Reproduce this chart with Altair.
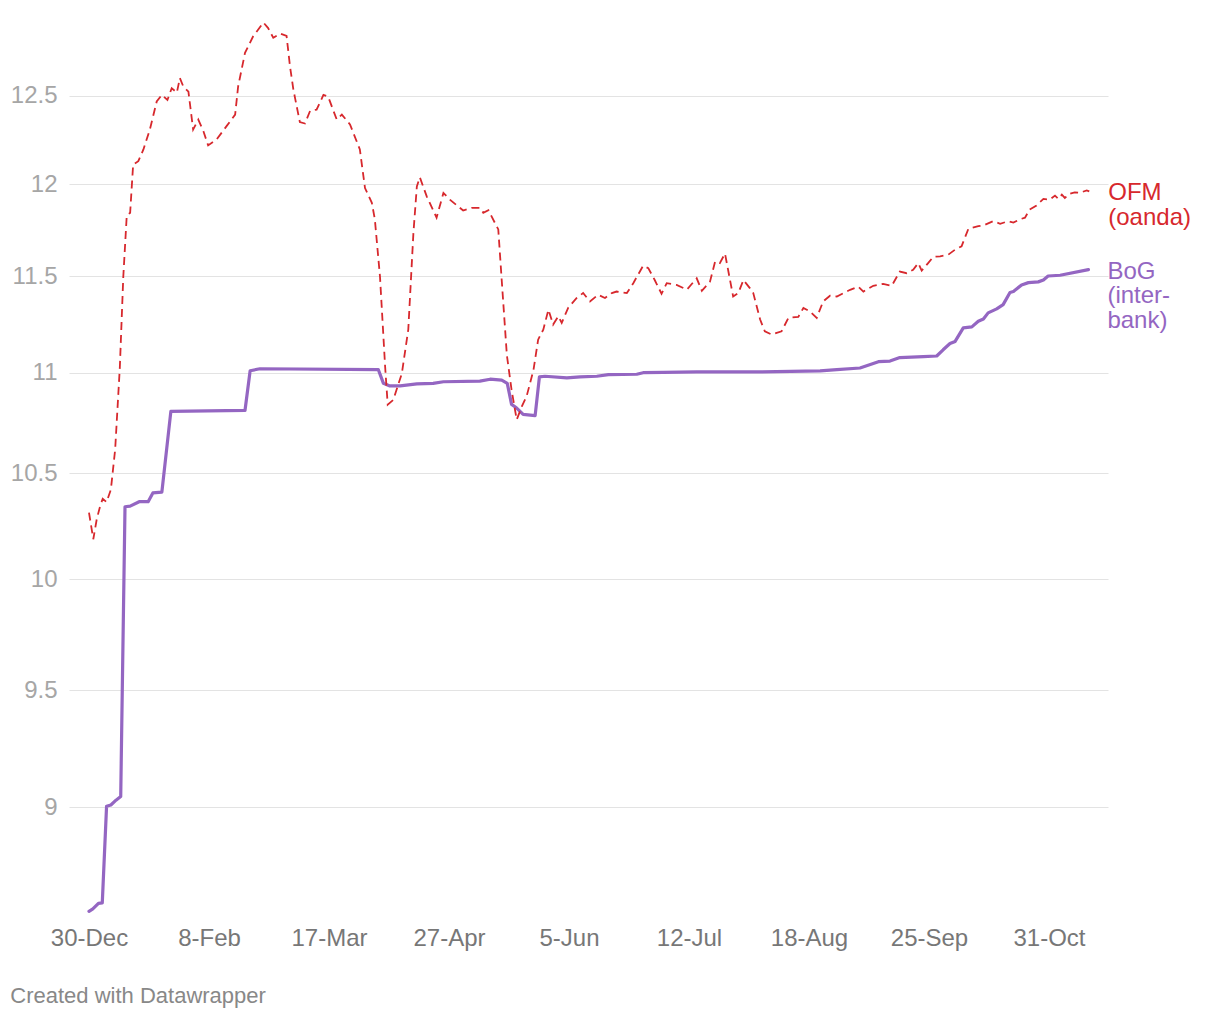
import altair as alt
import pandas as pd

# ---- tick labels (x axis is spaced by trading-day position, 28 per tick) ----
TICK_STEP = 28
tick_labels = ["30-Dec", "8-Feb", "17-Mar", "27-Apr", "5-Jun", "12-Jul", "18-Aug", "25-Sep", "31-Oct"]
tick_pos = [i * TICK_STEP for i in range(len(tick_labels))]
y_ticks = [9, 9.5, 10, 10.5, 11, 11.5, 12, 12.5]

# ---- BoG inter-bank rate ----
bog_t = [0, 0.9, 2.2, 3.1, 4.1, 5.1, 6.3, 7.4, 8.4, 9.6,
         11.7, 13.8, 14.9, 17.0, 19.1, 36.4, 37.6, 39.9, 67.5, 68.7,
         70.2, 72.6, 76.5, 80.3, 82.7, 91.2, 93.6, 96.3, 97.6, 98.6,
         99.8, 101.3, 104.1, 105.1, 106.4, 111.5, 114.6, 118.5, 121.2, 127.8,
         129.3, 134.0, 141.8, 156.6, 170.6, 174.5, 179.9, 183.0, 184.2, 186.9,
         189.2, 194.7, 197.8, 199.3, 200.9, 202.1, 204.0, 206.0, 207.5, 208.7,
         209.8, 211.8, 213.3, 214.9, 215.7, 217.6, 219.2, 221.5, 222.7, 223.8,
         226.6, 233.2]
bog_v = [8.578, 8.588, 8.61, 8.612, 9.005, 9.01, 9.03, 9.045, 10.34, 10.343,
         10.364, 10.364, 10.406, 10.41, 10.805, 10.81, 11.01, 11.02, 11.016, 10.946,
         10.933, 10.933, 10.943, 10.946, 10.954, 10.957, 10.967, 10.962, 10.946, 10.84,
         10.822, 10.79, 10.784, 10.979, 10.982, 10.974, 10.979, 10.982, 10.99, 10.992,
         11.0, 11.002, 11.004, 11.004, 11.009, 11.016, 11.024, 11.047, 11.056, 11.059,
         11.077, 11.082, 11.085, 11.117, 11.149, 11.16, 11.23, 11.235, 11.264, 11.276,
         11.308, 11.329, 11.351, 11.415, 11.42, 11.455, 11.467, 11.471, 11.481, 11.502,
         11.506, 11.536]

# ---- OFM (oanda) rate ----
ofm_t = [0, 1.0, 1.8, 2.6, 3.2, 4.1, 5.1, 6.1, 7.2, 8.0,
         8.8, 9.6, 10.3, 11.5, 12.7, 14.2, 15.8, 17.0, 18.3, 19.3,
         20.5, 21.2, 22.0, 23.2, 24.3, 25.5, 26.7, 27.8, 29.8, 32.1,
         34.1, 34.8, 36.4, 38.3, 40.7, 41.8, 43.0, 44.6, 46.1, 46.9,
         47.7, 49.2, 50.4, 51.6, 53.1, 54.7, 55.8, 57.8, 59.0, 60.9,
         63.2, 64.4, 66.0, 66.7, 67.9, 69.1, 69.7, 71.0, 73.0, 74.5,
         75.7, 76.5, 77.2, 78.8, 81.1, 82.7, 84.2, 87.3, 89.3, 91.2,
         92.0, 93.2, 95.5, 96.3, 97.5, 98.6, 99.8, 101.0, 102.1, 103.7,
         104.8, 106.0, 107.2, 108.3, 109.5, 110.3, 111.8, 113.8, 115.3, 116.9,
         118.8, 120.4, 122.0, 123.1, 125.5, 127.0, 129.3, 130.5, 132.0, 133.6,
         134.8, 137.1, 139.5, 141.8, 143.0, 144.9, 146.1, 147.2, 148.4, 150.3,
         151.5, 152.7, 154.2, 155.0, 156.6, 157.7, 159.3, 161.6, 163.2, 165.5,
         166.7, 168.2, 169.8, 171.3, 172.9, 174.5, 177.6, 179.5, 180.7, 183.0,
         185.3, 187.3, 189.2, 190.8, 192.3, 193.5, 194.3, 195.8, 197.0, 198.6,
         200.5, 202.1, 203.6, 205.2, 207.5, 208.7, 211.0, 212.6, 214.5, 215.7,
         217.2, 218.4, 219.5, 221.1, 222.7, 224.2, 225.4, 226.2, 227.0, 227.7,
         228.9, 230.0, 231.2, 232.8, 233.4]
ofm_v = [10.312, 10.186, 10.28, 10.343, 10.378, 10.362, 10.422, 10.616, 11.03, 11.498,
         11.824, 11.843, 12.109, 12.128, 12.194, 12.307, 12.467, 12.505, 12.476, 12.544,
         12.518, 12.603, 12.554, 12.524, 12.307, 12.363, 12.297, 12.217, 12.251, 12.326,
         12.392, 12.554, 12.75, 12.848, 12.93, 12.897, 12.839, 12.864, 12.85, 12.671,
         12.534, 12.349, 12.341, 12.414, 12.42, 12.505, 12.495, 12.364, 12.392, 12.336,
         12.194, 11.979, 11.897, 11.807, 11.498, 11.03, 10.839, 10.863, 10.996, 11.221,
         11.734, 11.988, 12.038, 11.933, 11.816, 11.952, 11.915, 11.855, 11.87, 11.87,
         11.843, 11.857, 11.752, 11.481, 11.09, 10.913, 10.764, 10.83, 10.88, 11.012,
         11.169, 11.221, 11.325, 11.247, 11.29, 11.256, 11.334, 11.386, 11.412, 11.368,
         11.403, 11.386, 11.412, 11.42, 11.412, 11.464, 11.557, 11.544, 11.481, 11.408,
         11.464, 11.455, 11.43, 11.49, 11.424, 11.472, 11.58, 11.571, 11.622, 11.394,
         11.412, 11.481, 11.438, 11.412, 11.273, 11.212, 11.195, 11.212, 11.282, 11.287,
         11.334, 11.316, 11.282, 11.368, 11.398, 11.394, 11.429, 11.446, 11.42, 11.45,
         11.46, 11.45, 11.526, 11.517, 11.535, 11.571, 11.531, 11.571, 11.604, 11.607,
         11.616, 11.643, 11.661, 11.756, 11.77, 11.774, 11.797, 11.783, 11.797, 11.789,
         11.807, 11.816, 11.861, 11.883, 11.919, 11.915, 11.937, 11.919, 11.942, 11.924,
         11.948, 11.955, 11.952, 11.966, 11.96]

series_names = ["OFM\n(oanda)", "BoG\n(inter-\nbank)"]
series_colors = ["#d7282d", "#9466c2"]

assert len(bog_t) == len(bog_v)
assert len(ofm_t) == len(ofm_v)

bog = pd.DataFrame({"t": bog_t, "v": bog_v})
ofm = pd.DataFrame({"t": ofm_t, "v": ofm_v})
labels = pd.DataFrame({
    "t": [ofm_t[-1], bog_t[-1]],
    "v": [ofm_v[-1], bog_v[-1]],
    "name": series_names,
    "color": series_colors,
})

FONT = "Liberation Sans"
xscale = alt.Scale(domain=[-4.667, 237.77], nice=False, zero=False)
yscale = alt.Scale(type="log", domain=[8.544, 13.005], nice=False, zero=False)

label_expr = "[" + ",".join(f"'{l}'" for l in tick_labels) + f"][round(datum.value/{TICK_STEP})]"

xaxis = alt.Axis(values=tick_pos, labelExpr=label_expr, grid=False, ticks=False, tickSize=0,
                 domain=False, labelFontSize=24, labelColor="#777777", labelFont=FONT,
                 labelPadding=6, title=None, labelFlush=False, labelOverlap=False)
yaxis = alt.Axis(values=y_ticks, format="~g", grid=True, gridColor="#e3e3e3", gridWidth=1,
                 ticks=False, tickSize=0, domain=False, labelFontSize=24, labelColor="#a6a6a6",
                 labelFont=FONT, labelPadding=12, title=None, labelOverlap=False)

X = alt.X("t:Q", scale=xscale, axis=xaxis)
Y = alt.Y("v:Q", scale=yscale, axis=yaxis)

bog_line = alt.Chart(bog).mark_line(
    color=series_colors[1], strokeWidth=3.2, strokeJoin="round", strokeCap="round"
).encode(x=X, y=Y)

ofm_line = alt.Chart(ofm).mark_line(
    color=series_colors[0], strokeWidth=1.8, strokeDash=[8, 5]
).encode(x=X, y=Y)

end_labels = alt.Chart(labels).mark_text(
    align="left", baseline="alphabetic", dx=19, dy=9, fontSize=24, font=FONT,
    lineBreak="\n", lineHeight=24.5
).encode(x=X, y=Y, text="name:N", color=alt.Color("color:N", scale=None))

chart = alt.layer(bog_line, ofm_line, end_labels).properties(
    width=1039,
    height=910,
    autosize=alt.AutoSizeParams(type="none"),
    padding={"left": 69, "top": 10, "right": 112, "bottom": 100},
    background="white",
    title=alt.TitleParams("Created with Datawrapper", orient="bottom", anchor="start",
                          fontSize=22, font=FONT, color="#888888", fontWeight="normal",
                          offset=36),
).configure_view(stroke=None)

chart.save("out.html", embed_options={"renderer": "svg", "actions": False})
